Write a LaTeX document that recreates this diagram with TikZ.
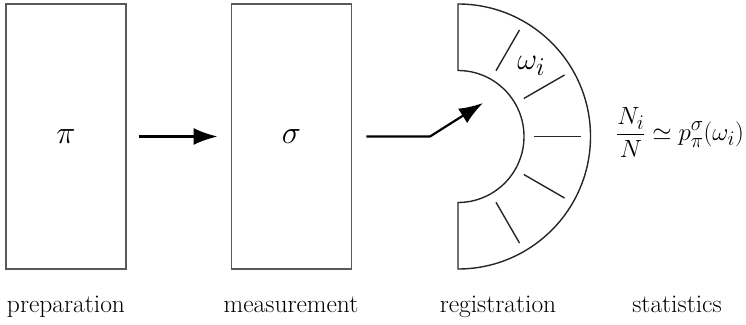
\documentclass[tikz,border=0pt]{standalone}
\usepackage{fontspec}
\usetikzlibrary{arrows.meta}
\begin{document}
\begin{tikzpicture}[x=1pt,y=1pt,
  box/.style={draw=black!65,line width=1.9pt,minimum width=120pt,minimum height=265pt,inner sep=0pt},
  bigmath/.style={font=\fontsize{24.88}{30}\selectfont,scale=1.3,inner sep=0pt},
  arr/.style={line width=2.2pt,-{Latex[length=24pt,width=17pt]}},
  lab/.style={anchor=base,font=\rmfamily\fontsize{25.5}{30}\selectfont},
  detector/.style={line width=1.4pt,black!85},
  tick/.style={line width=1.4pt,black!85}]
\useasboundingbox (0,0) rectangle (746,324);
\node[box] (prep) at (66,187.5) {};
\node[box] (meas) at (291.5,187.5) {};
\node[bigmath] (pi) at (prep.center) {$\pi$};
\node[bigmath] (sigma) at (meas.center) {$\sigma$};
\coordinate (c) at (458,187.5);
\draw[detector] (458,320) -- (458,253.5) arc[start angle=90,end angle=-90,radius=66]
  -- (458,55) arc[start angle=-90,end angle=90,radius=132.5] -- cycle;
\foreach \a in {-60,-30,0,30,60}
  \draw[tick] ([shift={(\a:76)}]c) -- ([shift={(\a:123)}]c);
\node[bigmath,scale=0.95] (omega) at ([shift={(44:102)}]c) {$\omega_i$};
\draw[arr] ([xshift=12pt]prep.east) -- ([xshift=-13pt]meas.west);
\coordinate (bend) at (430,187.5);
\coordinate (tip) at (483,221);
\draw[arr] ([xshift=14pt]meas.east) -- (bend) -- (tip);
\node[font=\fontsize{24.88}{30}\selectfont,inner sep=0pt] (stat) at (680,191.5) {$\displaystyle\frac{N_i}{N}\simeq p^\sigma_\pi(\omega_i)$};
\node[lab] (l1) at (66,12) {preparation};
\node[lab] (l2) at (291,12) {measurement};
\node[lab] (l3) at (498,12) {registration};
\node[lab] (l4) at (677,12) {statistics};
\end{tikzpicture}
\end{document}
